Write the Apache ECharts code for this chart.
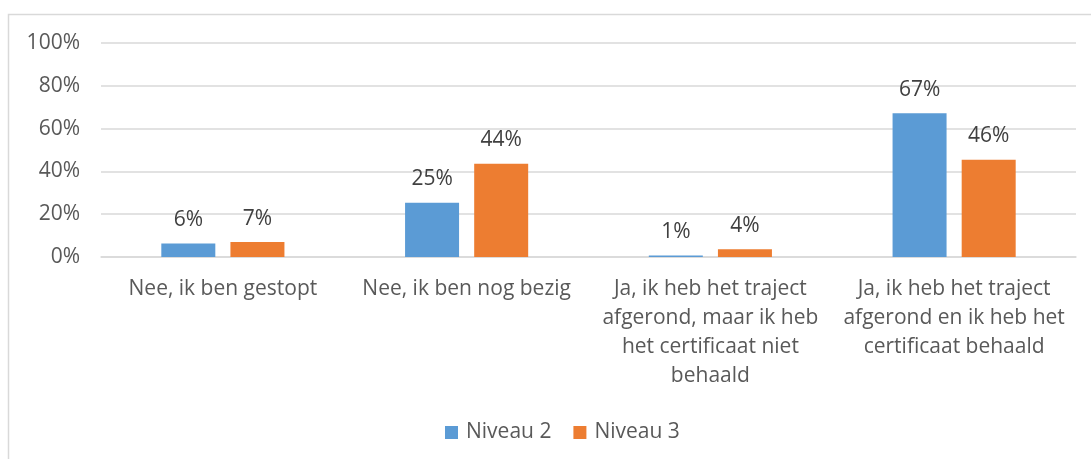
<!DOCTYPE html>
<html>
<head>
<meta charset="utf-8">
<script src="https://cdn.jsdelivr.net/npm/echarts@6/dist/echarts.min.js"></script>
<style>
html,body{margin:0;padding:0;background:#fff;}
#chart{width:1091px;height:459px;}
</style>
</head>
<body>
<div id="chart"></div>
<script>
const categories = [
  "Nee, ik ben gestopt",
  "Nee, ik ben nog bezig",
  "Ja, ik heb het traject\nafgerond, maar ik heb\nhet certificaat niet\nbehaald",
  "Ja, ik heb het traject\nafgerond en ik heb het\ncertificaat behaald"
];
const seriesNames = ["Niveau 2", "Niveau 3"];
const niveau2 = [6.3, 25.4, 0.7, 67.2];
const niveau3 = [7.0, 43.6, 3.6, 45.5];
const yTicks = { min: 0, max: 100, interval: 20 };

const FONT = "Open Sans";
const FS = 21;
const chart = echarts.init(document.getElementById('chart'), null, {renderer: 'canvas'});
const labelOpt = {
  show: true, position: 'top', distance: 13,
  color: '#404040', fontFamily: FONT, fontSize: FS, lineHeight: 21,
  formatter: p => Math.round(p.value) + '%'
};
chart.setOption({
  animation: false,
  textStyle: { fontFamily: FONT },
  graphic: [{
    type: 'rect', silent: true,
    shape: { x: 8.5, y: 14.5, width: 1200, height: 600 },
    style: { fill: 'none', stroke: '#D9D9D9', lineWidth: 1.5 }
  }],
  grid: { left: 101, right: 15, top: 43, bottom: 459 - 257, containLabel: false },
  legend: {
    top: 417, left: 440,
    itemWidth: 13, itemHeight: 13, itemGap: 22,
    icon: 'rect',
    textStyle: { color: '#595959', fontFamily: FONT, fontSize: FS, padding: [0, 0, 0, 3] },
    data: seriesNames
  },
  xAxis: {
    type: 'category', data: categories,
    axisLine: { show: true, lineStyle: { color: '#D9D9D9', width: 1.5 } },
    axisTick: { show: false },
    axisLabel: { color: '#595959', fontFamily: FONT, fontSize: FS, lineHeight: 29, margin: 18, interval: 0 }
  },
  yAxis: {
    type: 'value', min: yTicks.min, max: yTicks.max, interval: yTicks.interval,
    axisLine: { show: false }, axisTick: { show: false },
    splitLine: { lineStyle: { color: '#D9D9D9', width: 1.5 } },
    axisLabel: { color: '#595959', fontFamily: FONT, fontSize: FS, margin: 21, formatter: v => v + '%' }
  },
  series: [
    { name: seriesNames[0], type: 'bar', data: niveau2, barWidth: 54, barGap: '28%',
      itemStyle: { color: '#5B9BD5' }, label: labelOpt },
    { name: seriesNames[1], type: 'bar', data: niveau3, barWidth: 54, barGap: '28%',
      itemStyle: { color: '#ED7D31' }, label: labelOpt }
  ]
});
</script>
</body>
</html>
